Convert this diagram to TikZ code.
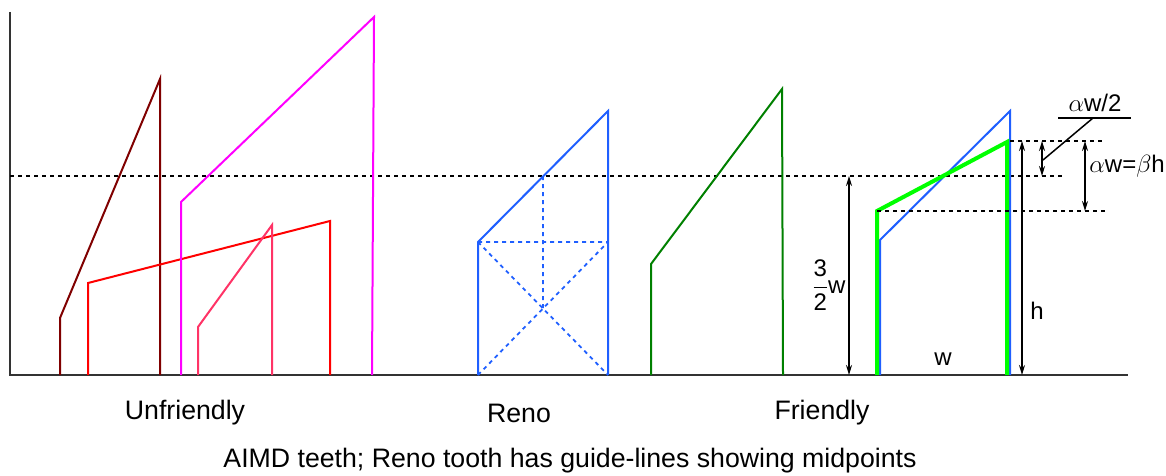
\documentclass[tikz,border=0pt]{standalone}
\usepackage{amsmath}
\usepackage{fontspec}
\setmainfont{Liberation Sans}
\usetikzlibrary{arrows.meta}
\definecolor{maroonc}{HTML}{800000}
\definecolor{redc}{HTML}{FF0000}
\definecolor{magc}{HTML}{FF00FF}
\definecolor{pinkc}{HTML}{FF3366}
\definecolor{bluec}{HTML}{1F5FFF}
\definecolor{dgreen}{HTML}{008000}
\definecolor{lime}{HTML}{00FF00}
\tikzset{
  tooth/.style={line width=2pt, line join=miter},
  axisline/.style={line width=2pt, black!80},
  guide/.style={line width=2pt, dash pattern=on 4pt off 4pt},
  dim/.style={line width=1.5pt, {Stealth[length=10pt,width=6pt]}-{Stealth[length=10pt,width=6pt]}},
  lbl/.style={inner sep=0pt, font=\fontsize{24}{28}\selectfont},
  wide/.style={inner sep=0pt, font=\fontsize{26.7}{31}\selectfont},
}
\begin{document}
\begin{tikzpicture}[x=1pt,y=-1pt]
\useasboundingbox (0,0) rectangle (1166,476);
% axes
\coordinate (ytop) at (10,12);
\coordinate (ybot) at (10,376);
\coordinate (xstart) at (9,375);
\coordinate (xend) at (1128,375);
\draw[axisline] (ytop) -- (ybot);
\draw[axisline] (xstart) -- (xend);
% main dotted guide
\coordinate (g1) at (10,176);
\coordinate (g2) at (1065,176);
\draw[guide] (g1) -- (g2);
% unfriendly teeth
\draw[tooth, maroonc] (60,375) -- (60,318) -- (160,79) -- (160,375);
\draw[tooth, redc] (88,375) -- (88,283) -- (330,221) -- (330,375);
\draw[tooth, magc] (181,375) -- (181,202) -- (374,17) -- (372,375);
\draw[tooth, pinkc] (198,375) -- (198,327) -- (272,225) -- (272,375);
% Reno tooth
\coordinate (rA) at (478,375);
\coordinate (rB) at (478,242);
\coordinate (rC) at (608,111);
\coordinate (rD) at (608,375);
\coordinate (rE) at (608,242);
\coordinate (rM) at (543,176);
\coordinate (rX) at (543,308.5);
\draw[tooth, bluec] (rA) -- (rB) -- (rC) -- (rD);
\draw[bluec, line width=1.8pt, dash pattern=on 4pt off 4pt] (rB) -- (rE) (rM) -- (rX) (rB) -- (rD) (rA) -- (rE);
% friendly tooth
\draw[tooth, dgreen] (651,375) -- (651,264) -- (782,89) -- (783,375);
% right-hand tooth
\coordinate (bA) at (880,375);
\coordinate (bB) at (880,240);
\coordinate (bC) at (1010,111);
\coordinate (bD) at (1010,375);
\coordinate (gA) at (877,375);
\coordinate (gB) at (877,211);
\coordinate (gC) at (1007,142);
\coordinate (gD) at (1007,375);
\draw[tooth, bluec] (bA) -- (bB) -- (bC) -- (bD);
\draw[line width=4pt, lime, line join=miter] (gA) -- (gB) -- (gC) -- (gD);
% dotted levels
\coordinate (t1) at (1010,141);
\coordinate (t2) at (1105,141);
\coordinate (m1) at (877,211);
\coordinate (m2) at (1105,211);
\draw[guide] (t1) -- (t2);
\draw[guide] (m1) -- (m2);
% dimension arrows
\coordinate (a1t) at (849,176);
\coordinate (a1b) at (849,375);
\draw[dim] (a1t) -- (a1b);
\coordinate (a2t) at (1022,141);
\coordinate (a2b) at (1022,375);
\draw[dim] (a2t) -- (a2b);
\coordinate (a3t) at (1042,141);
\coordinate (a3b) at (1042,176);
\draw[dim] (a3t) -- (a3b);
\coordinate (a4t) at (1085,141);
\coordinate (a4b) at (1085,211);
\draw[dim] (a4t) -- (a4b);
% labels
\node[lbl] (frac) at (829,285) {$\dfrac{\text{3}}{\text{2}}$w};
\node[lbl] (hlbl) at (1037,311) {h};
\node[lbl] (wlbl) at (943,359) {w};
\node[lbl] (awbh) at (1127,166) {$\alpha$w=$\beta$h};
\node[lbl] (aw2) at (1095,103) {$\alpha$w/2};
\coordinate (u1) at (1058,118);
\coordinate (u2) at (1131,118);
\coordinate (lk) at (1093,118);
\coordinate (lp) at (1043,160);
\draw[line width=1.5pt] (u1) -- (u2);
\draw[line width=1.5pt] (lk) -- (lp);
% captions
\node[wide] (unf) at (185,413) {Unfriendly};
\node[wide] (reno) at (519,413) {Reno};
\node[wide] (fr) at (822,413) {Friendly};
\node[wide] (cap) at (570,461) {AIMD teeth; Reno tooth has guide-lines showing midpoints};
\end{tikzpicture}
\end{document}
